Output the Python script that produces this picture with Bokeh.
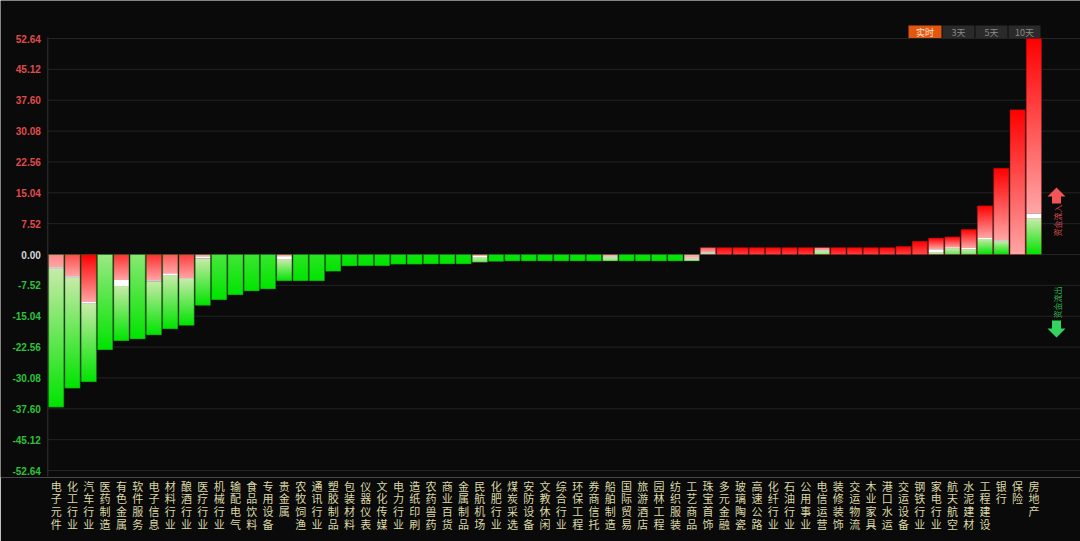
from math import pi, floor
from bokeh.plotting import figure
from bokeh.models import Range1d, FixedTicker, ColumnDataSource
from bokeh.embed import file_html
from bokeh.resources import INLINE
from bokeh.core.properties import value

# ---------------- data ----------------
categories = ["电子元件", "化工行业", "汽车行业", "医药制造", "有色金属", "软件服务", "电子信息",
              "材料行业", "酿酒行业", "医疗行业", "机械行业", "输配电气", "食品饮料", "专用设备",
              "贵金属", "农牧饲渔", "通讯行业", "塑胶制品", "包装材料", "仪器仪表", "文化传媒",
              "电力行业", "造纸印刷", "农药兽药", "商业百货", "金属制品", "民航机场", "化肥行业",
              "煤炭采选", "安防设备", "文教休闲", "综合行业", "环保工程", "券商信托", "船舶制造",
              "国际贸易", "旅游酒店", "园林工程", "纺织服装", "工艺商品", "珠宝首饰", "多元金融",
              "玻璃陶瓷", "高速公路", "化纤行业", "石油行业", "公用事业", "电信运营", "装修装饰",
              "交运物流", "木业家具", "港口水运", "交运设备", "钢铁行业", "家电行业", "航天航空",
              "水泥建材", "工程建设", "银行", "保险", "房地产"]

# net flow of each sector
net = [-37.2, -32.6, -31.0, -23.2, -21.0, -20.6, -19.6, -18.1, -17.3, -12.4,
       -11.0, -9.8, -8.9, -8.4, -6.4, -6.4, -6.4, -4.1, -2.8, -2.7,
       -2.7, -2.4, -2.4, -2.3, -2.3, -2.3, -1.9, -1.7, -1.6, -1.6,
       -1.6, -1.6, -1.6, -1.6, -1.6, -1.6, -1.6, -1.6, -1.6, -1.6,
       1.7, 1.7, 1.7, 1.7, 1.7, 1.7, 1.7, 1.7, 1.7, 1.7,
       1.7, 1.7, 1.95, 3.2, 4.0, 4.3, 6.1, 11.9, 21.0, 35.3, 52.64]

# opposite-colour part next to the zero line (inflow inside outflow bars and vice versa)
counter = [3.1, 5.3, 11.6, 0, 6.2, 0, 6.3, 4.7, 5.8, 0.55,
           0, 0, 0, 0, 0.5, 0, 0, 0, 0, 0,
           0, 0, 0, 0, 0, 0, 0.35, 0, 0, 0,
           0, 0, 0, 0, 0.35, 0, 0, 0, 0, 0.8,
           0.3, 0, 0, 0, 0, 0, 0, 0.9, 0, 0,
           0, 0, 0, 0, 0.5, 1.5, 1.3, 3.8, 3.2, 0, 8.7]

# white separator between the two parts
white = [0.35, 0.35, 0.4, 0, 1.5, 0, 0.3, 0.4, 0.2, 0.45,
         0, 0, 0, 0, 0.8, 0, 0, 0, 0, 0,
         0, 0, 0, 0, 0, 0, 0.25, 0, 0, 0,
         0, 0, 0, 0, 0.2, 0, 0, 0, 0, 0.25,
         0.25, 0, 0, 0, 0, 0, 0, 0.2, 0, 0,
         0, 0, 0, 0, 0.8, 0.2, 0.3, 0.25, 0.25, 0, 1.3]

y_ticks = [-52.64, -45.12, -37.60, -30.08, -22.56, -15.04, -7.52, 0.0,
           7.52, 15.04, 22.56, 30.08, 37.60, 45.12, 52.64]
y_tick_labels = ["-52.64", "-45.12", "-37.60", "-30.08", "-22.56", "-15.04", "-7.52", "0.00",
                 "7.52", "15.04", "22.56", "30.08", "37.60", "45.12", "52.64"]
buttons = ["实时", "3天", "5天", "10天"]
flow_texts = ["资金流入", "资金流出"]

# ---------------- layout / style ----------------
W, H = 1080, 541
BAR0_PX = 55.7          # page x of first bar centre
CAT_PX = 16.295         # page px per category
ZERO_PY = 254.0         # page y of zero line
UNIT_PX = 216.0 / 52.64 # page px per value unit
FRAME_BOTTOM_PY = 477
BAR_W = 0.935

BG = "#0a0a0a"
GRID = "#242424"
AXIS = "#333333"
LABEL_COLOR = "#dcd8a6"
RED_SAT = (255, 0, 0)
RED_LIGHT = (255, 166, 166)
GREEN_SAT = (0, 228, 0)
GREEN_LIGHT = (200, 234, 168)


def X(px):
    return (px - BAR0_PX) / CAT_PX


def Y(py):
    return (ZERO_PY - py) / UNIT_PX


def PY(v):
    return ZERO_PY - v * UNIT_PX


def mix(a, b, t):
    return tuple(a[i] + (b[i] - a[i]) * t for i in range(3))


def hexc(c):
    return "#%02x%02x%02x" % tuple(int(round(max(0, min(255, v)))) for v in c)


def clamp(t):
    return max(0.0, min(1.0, t))


p = figure(frame_width=W, frame_height=FRAME_BOTTOM_PY,
           x_range=Range1d(X(0), X(W)),
           y_range=Range1d(Y(FRAME_BOTTOM_PY), Y(0)),
           output_backend="svg", toolbar_location=None, y_axis_location=None,
           background_fill_color=BG, border_fill_color=BG, outline_line_color=None,
           min_border_left=0, min_border_right=0, min_border_top=0,
           min_border_bottom=H - FRAME_BOTTOM_PY)
p.grid.visible = False

xa = p.xaxis[0]
xa.ticker = FixedTicker(ticks=list(range(len(categories))))
xa.major_label_overrides = {i: "\n".join(c) for i, c in enumerate(categories)}
xa.major_tick_line_color = None
xa.minor_tick_line_color = None
xa.axis_line_color = None
xa.major_tick_out = 0
xa.major_tick_in = 0
xa.major_label_standoff = 0
xa.major_label_text_color = LABEL_COLOR
xa.major_label_text_font = "Noto Sans CJK SC"
xa.major_label_text_font_size = "11px"
xa.major_label_text_line_height = 0.81

AXIS_X = X(47.3)

# grid lines and axis line
p.segment(x0=AXIS_X, x1=X(W), y0=y_ticks, y1=y_ticks, line_color=GRID, line_width=1)
p.segment(x0=[AXIS_X], x1=[AXIS_X], y0=[Y(476)], y1=[y_ticks[-1] + 0.3], line_color=AXIS, line_width=1)

# ---------------- bars with gradients (pixel-aligned slices) ----------------
L, R, T, B, C = [], [], [], [], []


def add_segment(i, a, b, near_col, far_col):
    # a = near end value, b = far end value
    pa, pb = PY(a), PY(b)
    lo, hi = min(pa, pb), max(pa, pb)
    if hi - lo <= 0:
        return
    cuts = [lo] + [float(k) for k in range(int(floor(lo)) + 1, int(floor(hi)) + 1) if lo < k < hi] + [hi]
    for k in range(len(cuts) - 1):
        y0, y1 = cuts[k], cuts[k + 1]
        mid = (y0 + y1) / 2
        t = abs(mid - pa) / (hi - lo)
        col = mix(near_col, far_col, t)
        ext = 0.4 if k < len(cuts) - 2 else 0.0
        L.append(i - BAR_W / 2)
        R.append(i + BAR_W / 2)
        T.append(Y(y0))
        B.append(Y(y1 + ext))
        C.append(hexc(col))


WL, WR, WT, WB = [], [], [], []
OL, OR, OT, OB, OC = [], [], [], [], []
for i, v in enumerate(net):
    s = 1 if v > 0 else -1
    c = counter[i]
    w = white[i]
    has_div = (c > 0 or w > 0)
    if v < 0:
        csat, clight, msat, mlight = RED_SAT, RED_LIGHT, GREEN_SAT, GREEN_LIGHT
    else:
        csat, clight, msat, mlight = GREEN_SAT, GREEN_LIGHT, RED_SAT, RED_LIGHT
    # counter segment (from divider to zero)
    if c > 0:
        if csat == RED_SAT:
            t = clamp((c - 2.0) / 6.0)
        else:
            t = clamp(c / 3.0)
        add_segment(i, s * c, 0.0, clight, mix(clight, csat, t))
    if w > 0:
        WL.append(i - BAR_W / 2); WR.append(i + BAR_W / 2)
        WT.append(max(s * c, s * (c + w))); WB.append(min(s * c, s * (c + w)))
    start = s * (c + w)
    mlen = abs(v - start)
    if has_div:
        if msat == RED_SAT:
            t = clamp(mlen / 2.5)
        else:
            t = clamp(mlen / 3.0)
        add_segment(i, start, v, mlight, mix(mlight, msat, t))
    elif msat == RED_SAT:
        add_segment(i, start, v, mix(msat, mlight, clamp(0.35 + mlen / 30.0)), msat)
    else:
        add_segment(i, start, v, mix(msat, mlight, clamp(mlen / 30.0)), msat)
    OL.append(i - BAR_W / 2); OR.append(i + BAR_W / 2)
    OT.append(max(0, v)); OB.append(min(0, v))
    OC.append("#0f5f0f" if v < 0 else "#7a1010")

src = ColumnDataSource(dict(left=L, right=R, top=T, bottom=B, color=C))
p.quad(left="left", right="right", top="top", bottom="bottom", source=src,
       fill_color="color", line_color=None)
p.quad(left=WL, right=WR, top=WT, bottom=WB, fill_color="#ffffff", line_color=None)
p.quad(left=OL, right=OR, top=OT, bottom=OB, fill_color=None, line_color=OC, line_width=1, line_alpha=0.45)

# ---------------- y tick labels (coloured by sign) ----------------
tick_colors = ["#e04c4c" if t > 0 else ("#d8d8d8" if t == 0 else "#2ec23a") for t in y_ticks]
p.text(x=AXIS_X, y=y_ticks, text=y_tick_labels, text_color=tick_colors,
       text_align="right", text_baseline="middle", x_offset=-7,
       text_font=value("Liberation Sans"), text_font_style="bold", text_font_size="10px")

# ---------------- period buttons ----------------
btn_px = [(908, 941), (942, 974), (975, 1007), (1008, 1040)]
btn_fill = ["#e2560f", "#2a2a2a", "#2a2a2a", "#2a2a2a"]
btn_text = ["#f6e8da", "#8a8a8a", "#8a8a8a", "#8a8a8a"]
p.quad(left=[X(a) for a, b in btn_px], right=[X(b) for a, b in btn_px],
       top=[Y(25)] * 4, bottom=[Y(37.5)] * 4, fill_color=btn_fill, line_color=None)
p.text(x=[X((a + b) / 2) for a, b in btn_px], y=[Y(31.5)] * 4, text=buttons,
       text_color=btn_text, text_align="center", text_baseline="middle",
       text_font=value("Noto Sans CJK SC"), text_font_size="9px")

# ---------------- inflow / outflow arrows ----------------
up = [(1047, 196), (1056, 187), (1065, 196), (1060.5, 196), (1060.5, 203), (1051.5, 203), (1051.5, 196)]
down = [(1051.5, 320), (1060.5, 320), (1060.5, 328), (1065, 328), (1056, 337), (1047, 328), (1051.5, 328)]
p.patch([X(a) for a, b in up], [Y(b) for a, b in up], fill_color="#f25555", line_color=None)
p.patch([X(a) for a, b in down], [Y(b) for a, b in down], fill_color="#33d45e", line_color=None)
p.text(x=[X(1057), X(1057)], y=[Y(220), Y(302)], text=flow_texts,
       text_color=["#d84a4a", "#2fb34c"], angle=pi / 2,
       text_align="center", text_baseline="middle",
       text_font=value("Noto Sans CJK SC"), text_font_size="8px")

open("out.html", "w").write(file_html(p, INLINE))
